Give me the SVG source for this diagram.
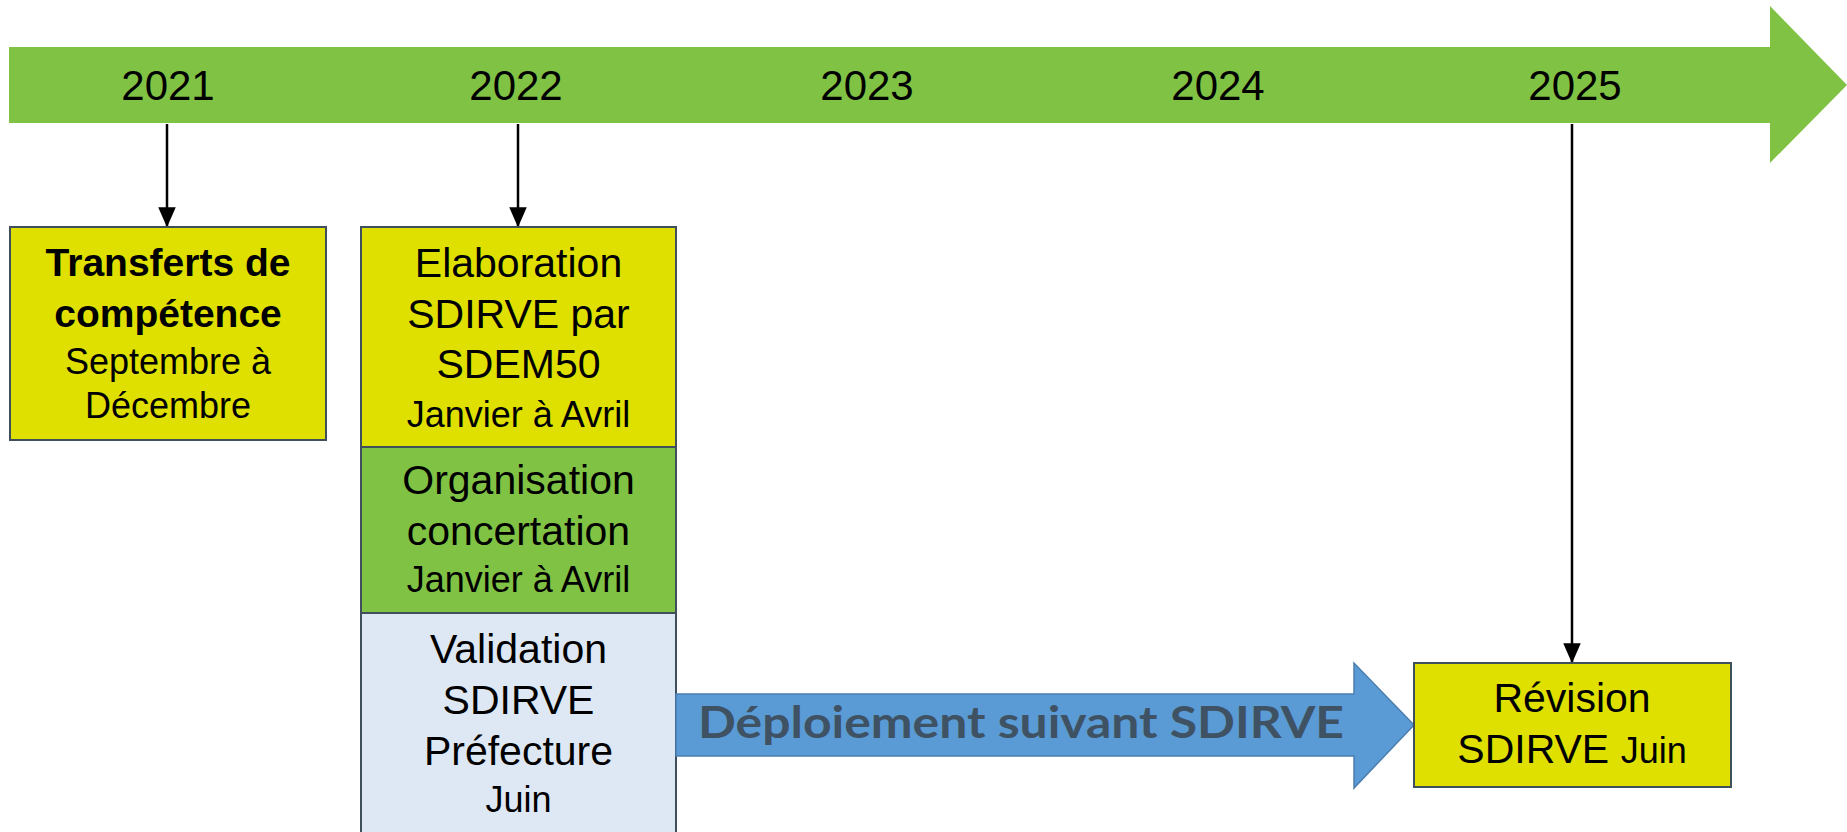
<svg xmlns="http://www.w3.org/2000/svg" width="1847" height="832" viewBox="0 0 1847 832">
<style>
.yr{font-family:"Liberation Sans",Arial,sans-serif;font-size:42px;fill:#000;text-anchor:middle}
.lg{font-family:"Liberation Sans",Arial,sans-serif;font-size:41px;fill:#000;text-anchor:middle}
.sm{font-family:"Liberation Sans",Arial,sans-serif;font-size:36px;fill:#000;text-anchor:middle}
.bd{font-family:"Liberation Sans",Arial,sans-serif;font-size:39px;font-weight:bold;fill:#000;text-anchor:middle}
.box{stroke:#3f4f5c;stroke-width:2}
.conn{stroke:#000;stroke-width:2.5;fill:none}
</style>
<defs>
<marker id="ah" markerWidth="8" markerHeight="7" refX="7.5" refY="3.5" orient="auto" markerUnits="strokeWidth">
<path d="M0,0 L8,3.5 L0,7 Z" fill="#000"/>
</marker>
</defs>
<rect width="1847" height="832" fill="#fff"/>
<g id="timeline">
<path d="M9,47 L1770,47 L1770,6 L1847,85 L1770,163 L1770,123 L9,123 Z" fill="#80c244"/>
<text class="yr" x="168" y="100">2021</text>
<text class="yr" x="516" y="100">2022</text>
<text class="yr" x="867" y="100">2023</text>
<text class="yr" x="1218" y="100">2024</text>
<text class="yr" x="1575" y="100">2025</text>
</g>
<g id="connectors">
<line class="conn" x1="167" y1="124" x2="167" y2="226" marker-end="url(#ah)"/>
<line class="conn" x1="518" y1="124" x2="518" y2="226" marker-end="url(#ah)"/>
<line class="conn" x1="1572" y1="124" x2="1572" y2="662" marker-end="url(#ah)"/>
</g>
<g id="transferts">
<rect class="box" x="10" y="227" width="316" height="213" fill="#dfe000"/>
<text class="bd" x="168" y="276">Transferts de</text>
<text class="bd" x="168" y="327">compétence</text>
<text class="sm" x="168" y="374">Septembre à</text>
<text class="sm" x="168" y="418">Décembre</text>
</g>
<g id="elaboration">
<rect class="box" x="361" y="227" width="315" height="220" fill="#dfe000"/>
<text class="lg" x="518.5" y="277">Elaboration</text>
<text class="lg" x="518.5" y="328">SDIRVE par</text>
<text class="lg" x="518.5" y="378">SDEM50</text>
<text class="sm" x="518.5" y="427">Janvier à Avril</text>
</g>
<g id="organisation">
<rect class="box" x="361" y="447" width="315" height="166" fill="#80c244"/>
<text class="lg" x="518.5" y="494">Organisation</text>
<text class="lg" x="518.5" y="545">concertation</text>
<text class="sm" x="518.5" y="592">Janvier à Avril</text>
</g>
<g id="validation">
<rect class="box" x="361" y="613" width="315" height="240" fill="#dde8f4"/>
<text class="lg" x="518.5" y="663">Validation</text>
<text class="lg" x="518.5" y="714">SDIRVE</text>
<text class="lg" x="518.5" y="765">Préfecture</text>
<text class="sm" x="518.5" y="812">Juin</text>
</g>
<g id="deploiement">
<path d="M676,694 L1354,694 L1354,663 L1414,725 L1354,788 L1354,756 L676,756 Z" fill="#5b9bd5" stroke="#4a7fb0" stroke-width="1.5"/>
<text x="1021" y="738" font-family="Lato,'Liberation Sans',sans-serif" font-weight="bold" font-size="44" fill="#3e5263" text-anchor="middle" textLength="646" lengthAdjust="spacingAndGlyphs">Déploiement suivant SDIRVE</text>
</g>
<g id="revision">
<rect class="box" x="1414" y="663" width="317" height="124" fill="#dfe000"/>
<text class="lg" x="1572" y="712">Révision</text>
<text class="lg" x="1572" y="763">SDIRVE <tspan font-size="36">Juin</tspan></text>
</g>
</svg>
